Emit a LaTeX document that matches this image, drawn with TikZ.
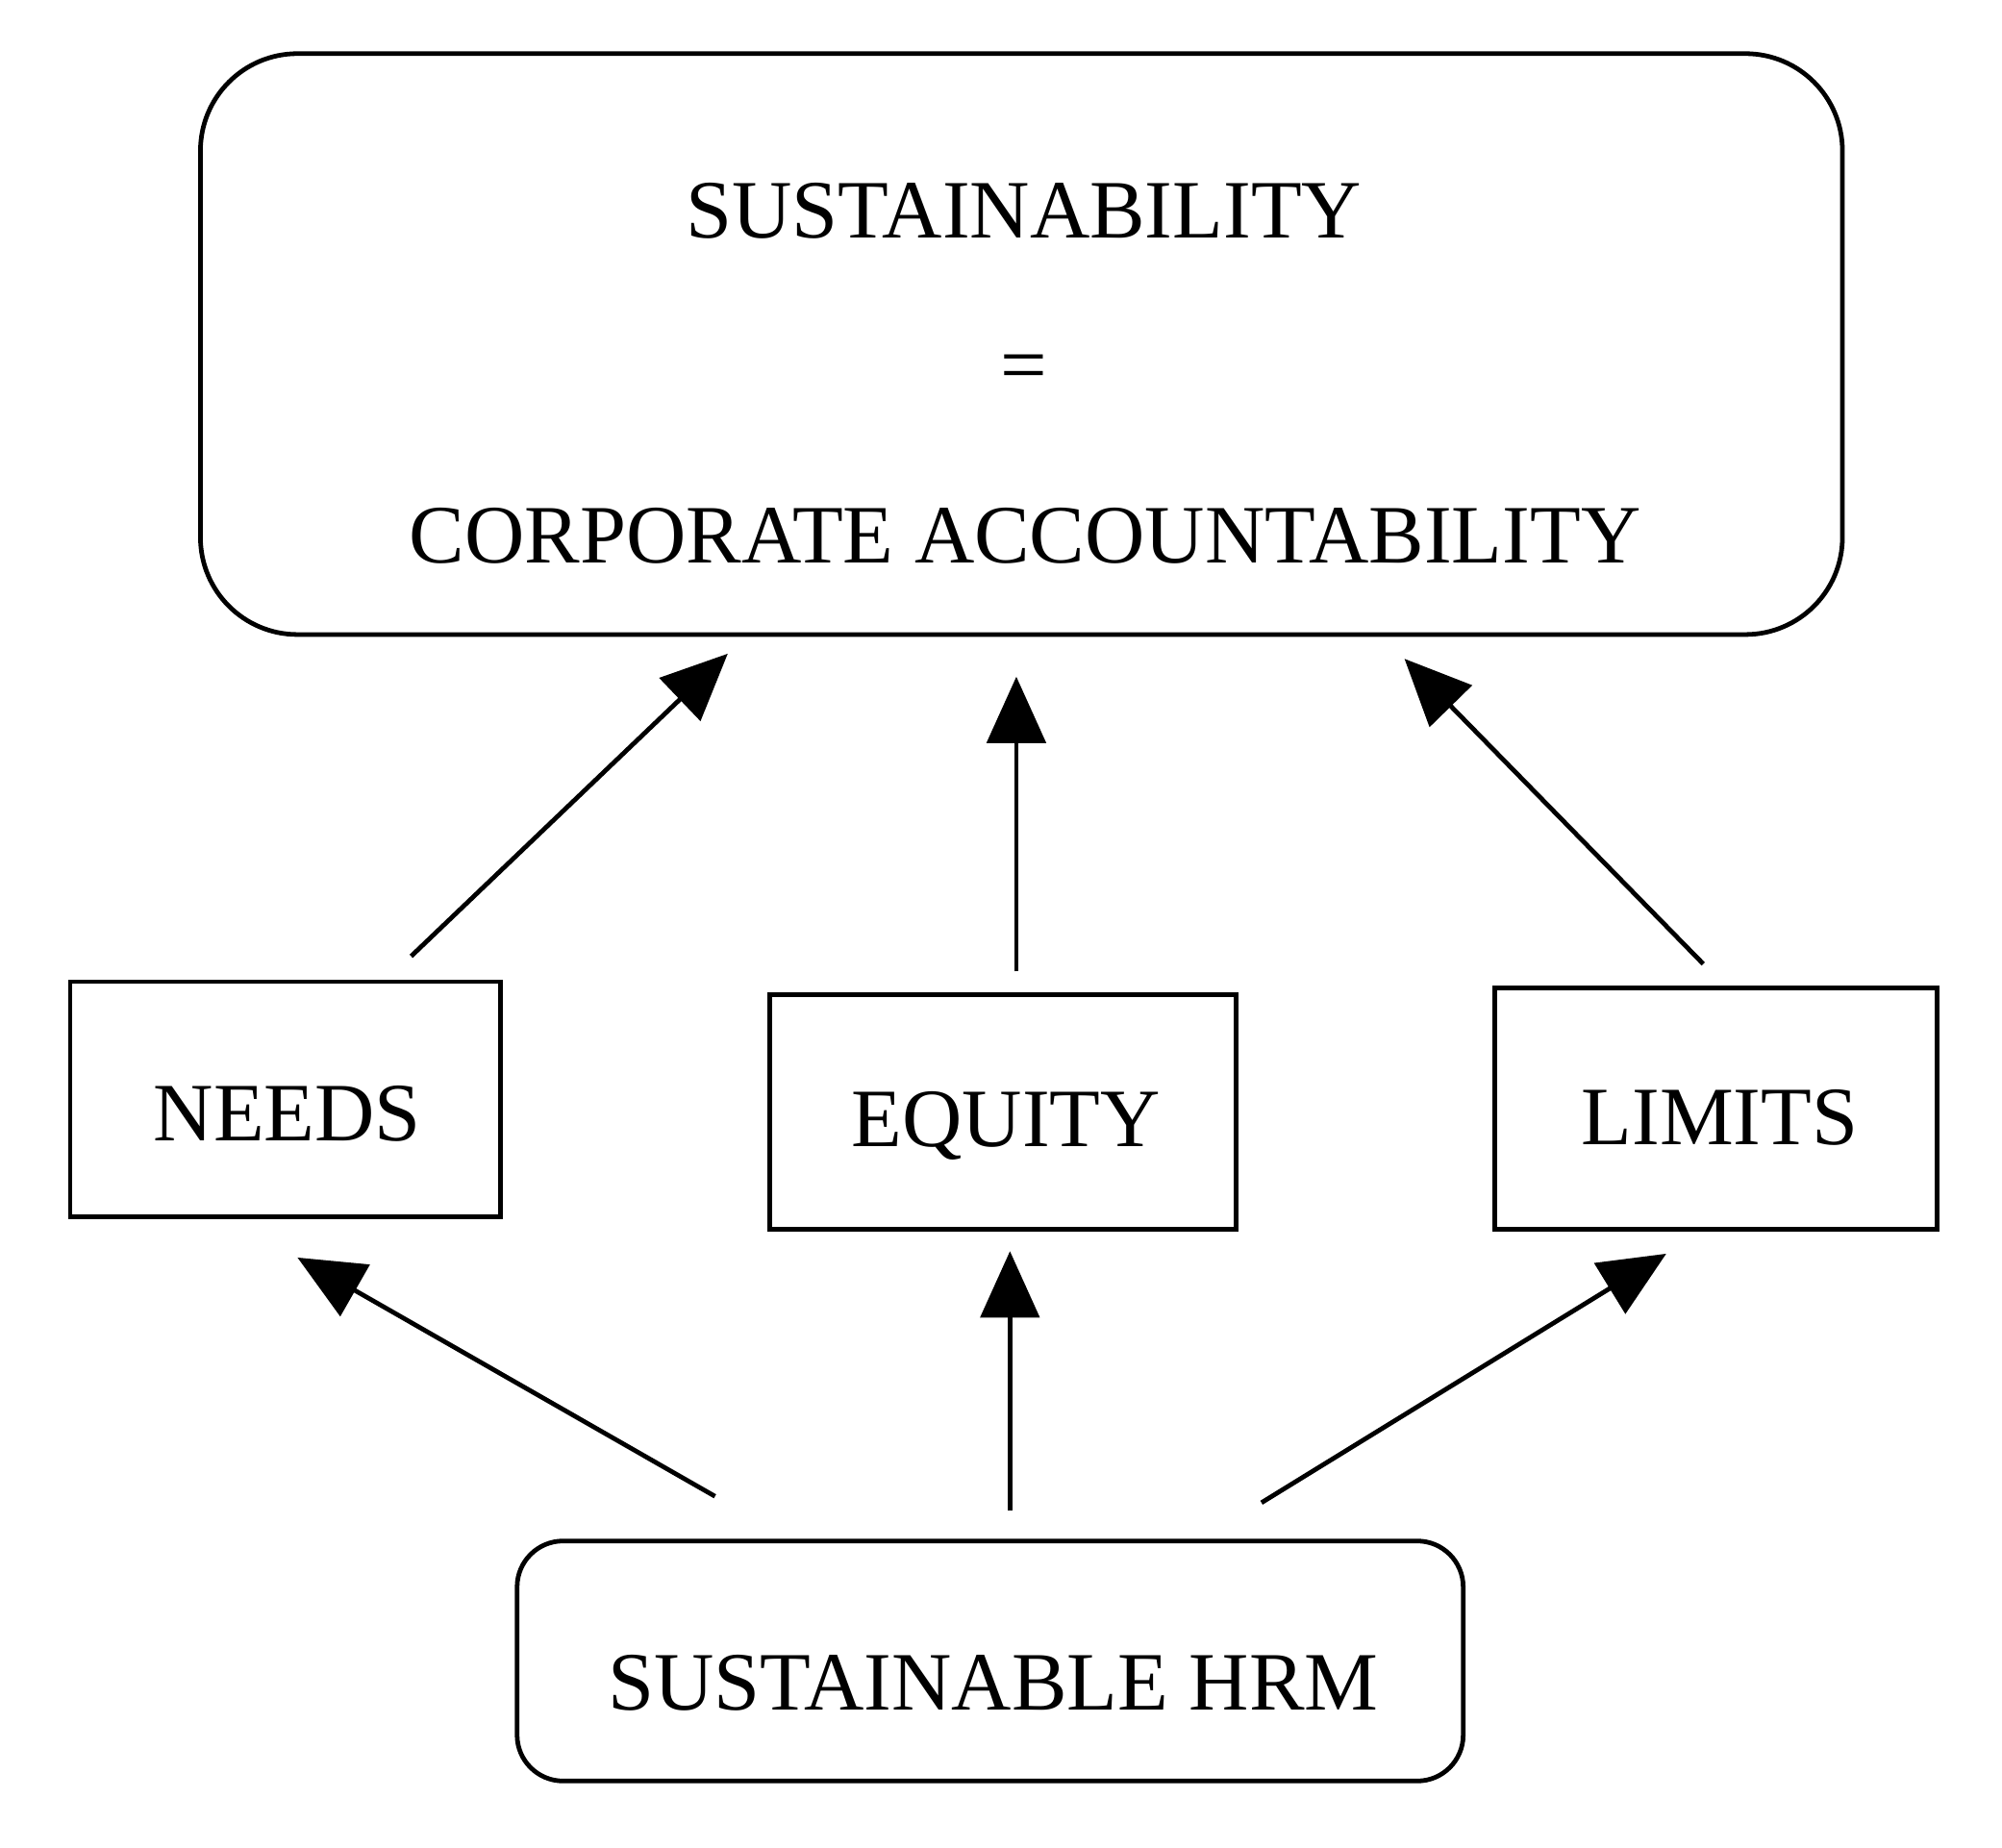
\documentclass[tikz,border=0pt]{standalone}
\usepackage{fontspec}
\setmainfont{Liberation Serif}
\usetikzlibrary{arrows.meta}
\begin{document}
\begin{tikzpicture}[x=0.5pt,y=-0.5pt,
  lbl/.style={font=\fontsize{32.5}{38}\selectfont, inner sep=0pt},
  boxline/.style={draw, line width=1.8pt},
  conn/.style={line width=1.8pt, -{Triangle[length=26pt,width=23pt]}}]
\useasboundingbox (0,0) rectangle (1568,1447);
% top rounded box
\draw[boxline, rounded corners=38pt] (157,42) rectangle (1443,497);
\node[lbl] (sust) at (802,165) {SUSTAINABILITY};
\node[lbl] (eq) at (802,293) {=};
\node[lbl] (corp) at (803,420) {CORPORATE ACCOUNTABILITY};
% middle boxes
\draw[boxline] (55,769) rectangle (392,953);
\node[lbl] (needs) at (225,872) {NEEDS};
\draw[boxline] (603,779) rectangle (968,963);
\node[lbl] (equity) at (788,882) {EQUITY};
\draw[boxline] (1171,774) rectangle (1517,963);
\node[lbl] (limits) at (1347,875) {LIMITS};
% bottom rounded box
\draw[boxline, rounded corners=18pt] (405,1207) rectangle (1146,1395);
\node[lbl] (hrm) at (778,1318) {SUSTAINABLE HRM};
% connector end points
\coordinate (n1) at (322,749); \coordinate (t1) at (570,512);
\coordinate (e1) at (796,761); \coordinate (t2) at (796,530);
\coordinate (l1) at (1334,755); \coordinate (t3) at (1100,516);
\coordinate (h1) at (560,1172); \coordinate (b1) at (233,985);
\coordinate (h2) at (791,1183); \coordinate (b2) at (791,980);
\coordinate (h3) at (988,1177); \coordinate (b3) at (1305,982);
\draw[conn] (n1) -- (t1);
\draw[conn] (e1) -- (t2);
\draw[conn] (l1) -- (t3);
\draw[conn] (h1) -- (b1);
\draw[conn] (h2) -- (b2);
\draw[conn] (h3) -- (b3);
\end{tikzpicture}
\end{document}
